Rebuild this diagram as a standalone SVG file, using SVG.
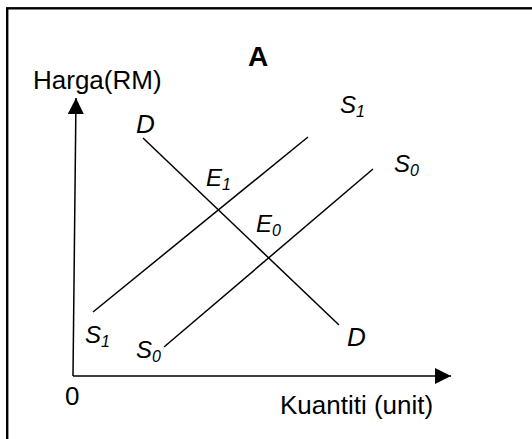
<svg xmlns="http://www.w3.org/2000/svg" width="532" height="439" viewBox="0 0 532 439">
<style>
text{font-family:"Liberation Sans",Arial,sans-serif;fill:#000}
.lbl{font-size:26px}
.it{font-style:italic;font-size:24px}
.dl{font-style:italic;font-size:26px}
.sub{font-size:16px}
.ln{stroke:#000;stroke-width:1.5;fill:none}
</style>
<defs>
<marker id="ah" markerUnits="userSpaceOnUse" markerWidth="16" markerHeight="16" refX="16" refY="8" orient="auto" viewBox="0 0 16 16">
<path d="M0,0 L16,8 L0,16 Z" fill="#000"/>
</marker>
</defs>
<rect x="7.2" y="8.3" width="560" height="460" fill="none" stroke="#000" stroke-width="2.4"/>
<g id="connectors">
<line class="ln" x1="73" y1="376" x2="76" y2="98" marker-end="url(#ah)"/>
<line class="ln" x1="73" y1="376" x2="451" y2="376" marker-end="url(#ah)"/>
<line class="ln" x1="143" y1="138" x2="339" y2="325"/>
<line class="ln" x1="93" y1="312" x2="308" y2="137"/>
<line class="ln" x1="164" y1="347" x2="373" y2="169"/>
</g>
<g id="title"><text x="248" y="66" style="font-size:28px;font-weight:bold">A</text></g>
<g id="yaxis-label"><text class="lbl" x="33" y="89">Harga(RM)</text></g>
<g id="xaxis-label"><text class="lbl" x="280" y="414">Kuantiti (unit)</text></g>
<g id="origin"><text class="lbl" x="65" y="405">0</text></g>
<g id="D-top"><text class="dl" x="136" y="133">D</text></g>
<g id="D-bottom"><text class="dl" x="347" y="346">D</text></g>
<g id="E1"><text class="it" x="206" y="186">E<tspan class="sub" dy="4">1</tspan></text></g>
<g id="E0"><text class="it" x="256" y="232">E<tspan class="sub" dy="4">0</tspan></text></g>
<g id="S1-top"><text class="it" x="340" y="113">S<tspan class="sub" dy="4">1</tspan></text></g>
<g id="S0-top"><text class="it" x="394" y="172">S<tspan class="sub" dy="4">0</tspan></text></g>
<g id="S1-bottom"><text class="it" x="85" y="343">S<tspan class="sub" dy="4">1</tspan></text></g>
<g id="S0-bottom"><text class="it" x="136" y="358">S<tspan class="sub" dy="4">0</tspan></text></g>
</svg>
